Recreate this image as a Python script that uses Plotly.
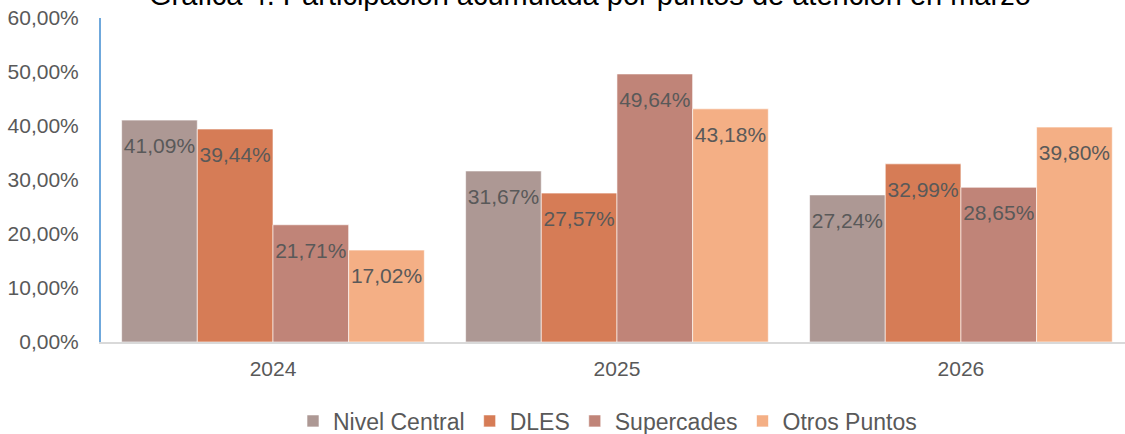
import plotly.graph_objects as go

years = ["2024", "2025", "2026"]
series_names = ["Nivel Central", "DLES", "Supercades", "Otros Puntos"]
nivel_central = [41.09, 31.67, 27.24]
dles = [39.44, 27.57, 32.99]
supercades = [21.71, 49.64, 28.65]
otros_puntos = [17.02, 43.18, 39.80]

COLORS = ["#ad9894", "#d67c56", "#c08478", "#f4af85"]
TEXT_COLOR = "#595959"
FONT = "Arial, Liberation Sans, sans-serif"

fig = go.Figure()
all_vals = [nivel_central, dles, supercades, otros_puntos]
for i, (name, vals, col) in enumerate(zip(series_names, all_vals, COLORS)):
    fig.add_trace(go.Bar(
        name=name,
        x=years,
        y=vals,
        offsetgroup=str(i),
        marker=dict(color=col, line=dict(color="rgba(255,255,255,0.6)", width=1)),
    ))
# data labels, sitting just under each bar top
for i, vals in enumerate(all_vals):
    fig.add_trace(go.Scatter(
        x=years,
        y=vals,
        offsetgroup=str(i),
        mode="markers+text",
        marker=dict(size=26, opacity=0),
        text=[f"{v:.2f}%".replace(".", ",") for v in vals],
        textposition="bottom center",
        textfont=dict(family=FONT, size=21, color=TEXT_COLOR),
        showlegend=False,
        hoverinfo="skip",
    ))

fig.update_layout(
    width=1125,
    height=434,
    barmode="group",
    scattermode="group",
    bargap=0.12,
    bargroupgap=0,
    scattergap=0.12,
    paper_bgcolor="white",
    plot_bgcolor="white",
    font=dict(family=FONT, color=TEXT_COLOR, size=20),
    margin=dict(l=101, r=0, t=18, b=92),
    separators=",.",
    legend=dict(
        orientation="h",
        xref="container", yref="container",
        x=0.54, xanchor="center",
        y=0.03, yanchor="middle",
        font=dict(size=23, color=TEXT_COLOR),
        itemwidth=30,
        traceorder="normal",
    ),
    annotations=[dict(
        text="Gráfica 4. Participación acumulada por puntos de atención en marzo",
        xref="paper", yref="paper", x=0.478, y=1.0, xanchor="center", yanchor="middle",
        yshift=23,
        showarrow=False,
        font=dict(size=29, color="black", family=FONT),
    )],
)
fig.update_xaxes(
    range=[-0.5, 2.477],
    automargin=False,
    showline=True, linecolor="#d9d9d9", linewidth=2,
    ticks="", ticklabelstandoff=7,
    tickfont=dict(size=21, color=TEXT_COLOR),
)
fig.update_yaxes(
    range=[0, 60],
    automargin=False,
    dtick=10,
    tickformat=".2f",
    ticksuffix="%",
    showgrid=False,
    zeroline=False,
    showline=True, linecolor="#6fa8dc", linewidth=2,
    ticks="", ticklabelstandoff=16,
    tickfont=dict(size=21, color=TEXT_COLOR),
)

fig.write_html("out.html", config={"displayModeBar": False},
               post_script="document.body.style.margin='0';")
